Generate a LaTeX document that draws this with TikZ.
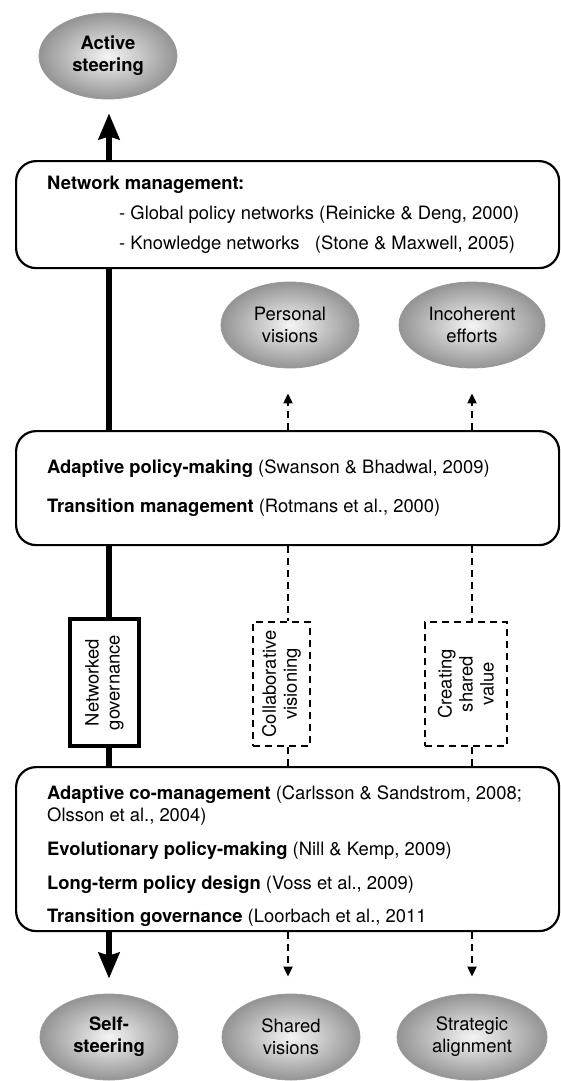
\documentclass[tikz,border=0pt]{standalone}
\usepackage{fontspec}
\setmainfont{TeX Gyre Heros}
\usetikzlibrary{arrows.meta,shapes.geometric}
\begin{document}
\begin{tikzpicture}[x=1pt,y=-1pt,
  txt/.style={font=\fontsize{18.4}{22}\selectfont},
  lbl/.style={txt,anchor=base west,inner sep=0pt},
  oval/.style={ellipse,minimum width=138pt,minimum height=86pt,inner sep=0pt,
    draw=black!40,line width=0.8pt,inner color=black!4,outer color=black!42,
    align=center,txt},
  bigbox/.style={draw,line width=2.2pt,rounded corners=20pt,minimum width=543pt,anchor=north west,inner sep=0pt},
  netbox/.style={draw,line width=4.5pt,fill=white,minimum width=69pt,minimum height=127pt,inner sep=0pt},
  dbox/.style={draw,line width=2pt,dash pattern=on 7pt off 5pt,fill=white,inner sep=0pt,minimum height=124pt},
  vtext/.style={txt,rotate=90,align=center,font=\fontsize{18.4}{21}\selectfont},
  spine/.style={line width=5.5pt},
  spinearrow/.style={line width=5.5pt,-{Stealth[length=26pt,width=21pt,inset=3pt]}},
  dline/.style={line width=2pt,dash pattern=on 7pt off 5pt},
  darrow/.style={line width=2pt,dash pattern=on 7pt off 5pt,-{Triangle[length=10pt,width=9pt]}}
]
\useasboundingbox (0,0) rectangle (561,1081);

% columns
\coordinate (sp) at (109,0);
\coordinate (c1) at (288,0);
\coordinate (c2) at (472,0);

% ellipses
\node[oval] (act) at (108,56) {\bfseries Active\\\bfseries steering};
\node[oval] (pers) at (290,325) {Personal\\visions};
\node[oval,minimum width=146pt] (inco) at (472,325) {Incoherent\\efforts};
\node[oval] (self) at (109,1037) {\bfseries Self-\\\bfseries steering};
\node[oval] (shar) at (291,1037) {Shared\\visions};
\node[oval,minimum width=150pt] (stra) at (472,1037) {Strategic\\alignment};

% boxes
\node[bigbox,minimum height=107pt] (b1) at (15,160) {};
\node[bigbox,minimum height=114pt] (b2) at (15,430) {};
\node[bigbox,minimum height=164pt] (b3) at (15,766) {};

\node[lbl] (t11) at (47,189) {\bfseries Network management:};
\node[lbl] (t12) at (119,219) {- Global policy networks (Reinicke \& Deng, 2000)};
\node[lbl] (t13) at (119,249) {- Knowledge networks\ \ \ (Stone \& Maxwell, 2005)};

\node[lbl] (t21) at (47,473) {\textbf{Adaptive policy-making} (Swanson \& Bhadwal, 2009)};
\node[lbl] (t22) at (47,512) {\textbf{Transition management} (Rotmans et al., 2000)};

\node[lbl] (t31) at (47,799) {\textbf{Adaptive co-management} (Carlsson \& Sandstrom, 2008;};
\node[lbl] (t32) at (47,821) {Olsson et al., 2004)};
\node[lbl] (t33) at (47,855) {\textbf{Evolutionary policy-making} (Nill \& Kemp, 2009)};
\node[lbl] (t34) at (47,889) {\textbf{Long-term policy design} (Voss et al., 2009)};
\node[lbl] (t35) at (47,922) {\textbf{Transition governance} (Loorbach et al., 2011};

% middle boxes
\node[netbox] (net) at (104.5,682.5) {};
\node[vtext] at (net.center) {Networked\\governance};
\node[dbox,minimum width=57pt] (col) at (281.5,684) {};
\node[vtext] at (col.center) {Collaborative\\visioning};
\node[dbox,minimum width=82pt] (cre) at (466,684) {};
\node[vtext] at (cre.center) {Creating\\shared\\value};

% spine
\draw[spinearrow,shorten >=14pt] (b1.north -| sp) -- (act.south -| sp);
\draw[spine] (b1.south -| sp) -- (b2.north -| sp);
\draw[spine] (b2.south -| sp) -- (net.north -| sp);
\draw[spine] (net.south -| sp) -- (b3.north -| sp);
\draw[spinearrow,shorten >=15pt] (b3.south -| sp) -- (self.north -| sp);

% dashed columns
\draw[darrow,shorten >=25pt] (b2.north -| c1) -- (pers.south -| c1);
\draw[darrow,shorten >=25pt] (b2.north -| c2) -- (inco.south -| c2);
\draw[dline] (b2.south -| c1) -- (col.north -| c1);
\draw[dline] (b2.south -| c2) -- (cre.north -| c2);
\draw[dline] (col.south -| c1) -- (b3.north -| c1);
\draw[dline] (cre.south -| c2) -- (b3.north -| c2);
\draw[darrow,shorten >=17pt] (b3.south -| c1) -- (shar.north -| c1);
\draw[darrow,shorten >=17pt] (b3.south -| c2) -- (stra.north -| c2);
\end{tikzpicture}
\end{document}
